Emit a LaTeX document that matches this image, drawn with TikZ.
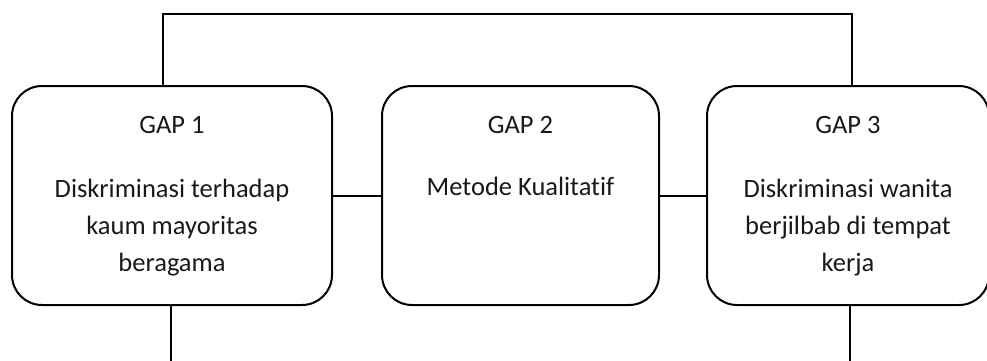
\documentclass[tikz,border=0pt]{standalone}
\usepackage{fontspec}
\setmainfont[Ligatures={NoCommon,NoRare}]{Carlito}
\begin{document}
\begin{tikzpicture}[x=1pt,y=-1pt,
  gapbox/.style={draw=black, line width=2pt, rounded corners=30pt, minimum height=219pt, inner sep=0pt},
  txt/.style={anchor=base, inner sep=0pt, text=black!90, font=\fontsize{26.5}{30}\selectfont},
  conn/.style={draw=black, line width=2pt}]
\useasboundingbox (0,0) rectangle (987,360);
\clip (0,0) rectangle (987,360);
\node[gapbox, minimum width=320pt] (b1) at (172,195.5) {};
\node[gapbox, minimum width=277pt] (b2) at (520.5,195.5) {};
\node[gapbox, minimum width=282pt] (b3) at (848,195.5) {};
% texts
\node[txt] (g1) at (172,133) {GAP 1};
\node[txt] (t1a) at (172,197) {Diskriminasi terhadap};
\node[txt] (t1b) at (172,234) {kaum mayoritas};
\node[txt] (t1c) at (172,271) {beragama};
\node[txt] (g2) at (520.5,133) {GAP 2};
\node[txt] (t2a) at (520.5,195) {Metode Kualitatif};
\node[txt] (g3) at (848,133) {GAP 3};
\node[txt] (t3a) at (848,197) {Diskriminasi wanita};
\node[txt] (t3b) at (848,234) {berjilbab di tempat};
\node[txt] (t3c) at (848,271) {kerja};
% connectors
\coordinate (top1) at (163,13.5);
\coordinate (top3) at (852,13.5);
\coordinate (bot1) at (171,362);
\coordinate (bot3) at (850,362);
\draw[conn] (b1.north -| top1) -- (top1) -- (top3) -- (b3.north -| top3);
\draw[conn] (b1.south -| bot1) -- (bot1);
\draw[conn] (b3.south -| bot3) -- (bot3);
\draw[conn] (b1.east) -- (b2.west);
\draw[conn] (b2.east) -- (b3.west);
\end{tikzpicture}
\end{document}
